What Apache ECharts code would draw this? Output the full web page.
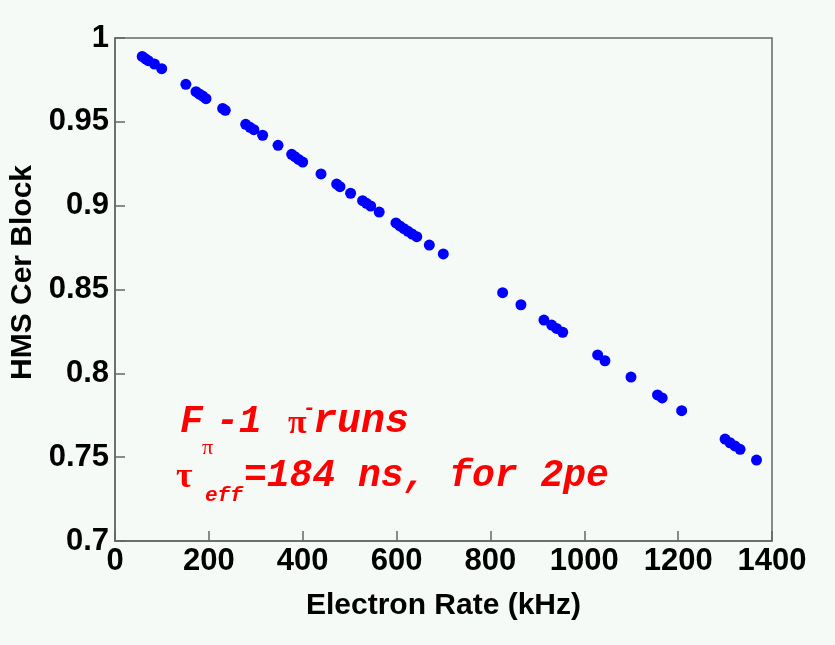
<!DOCTYPE html>
<html>
<head>
<meta charset="utf-8">
<title>HMS Cer Block vs Electron Rate</title>
<script src="https://cdn.jsdelivr.net/npm/echarts@6/dist/echarts.min.js"></script>
<style>
	* { margin: 0; padding: 0; border: 0; }
	html, body { height: 100%; background: #f5faf7; }
	#main { width: 835px; height: 645px; }
</style>
</head>
<body>
<div id="main"></div>
<script type="text/javascript">
	// electron rate (kHz)
	var rate = [58, 65, 71, 84, 99.5, 151, 172.6, 179.7, 186.8, 193.9, 229.4, 235,
		278.5, 287.7, 296, 314.6, 347.4, 376.5, 383.5, 391.3, 400, 439, 472.3, 479.4,
		502, 527.6, 536, 544.8, 563, 598.7, 607, 615.8, 624.3, 633, 643, 669.8, 699.6,
		826, 865, 914, 930.5, 941, 954, 1028.5, 1044, 1099.5, 1156, 1166, 1207.5,
		1300, 1310.5, 1321, 1332, 1367];
	// HMS Cer block efficiency
	var eff = [0.989, 0.9876, 0.9865, 0.9845, 0.9817, 0.9724, 0.968, 0.9666, 0.9654, 0.9638, 0.958, 0.9569,
		0.9485, 0.9467, 0.9453, 0.942, 0.936, 0.9306, 0.9292, 0.9276, 0.926, 0.9189, 0.9129, 0.9113,
		0.9074, 0.903, 0.9014, 0.8998, 0.8962, 0.8897, 0.8879, 0.8863, 0.8847, 0.8831, 0.8815, 0.8765, 0.8712,
		0.8481, 0.8409, 0.8318, 0.8288, 0.8268, 0.8245, 0.811, 0.8075, 0.7978, 0.7871, 0.7853, 0.7777,
		0.7608, 0.7586, 0.7567, 0.7547, 0.7483];

	var points = [];
	for (var i = 0; i < rate.length; i++) {
		points.push([rate[i], eff[i]]);
	}

	var red = '#ff0000';
	var mono = 'italic bold 38px "Liberation Mono", "Courier New", monospace';
	var monoBig = 'italic bold 40px "Liberation Mono", "Courier New", monospace';
	var monoSmall = 'italic bold 21px "Liberation Mono", "Courier New", monospace';
	var greek = 'bold 34px "Liberation Serif", serif';
	var greekSmall = '22px "Liberation Serif", serif';
	var sans = '"Liberation Sans", Arial, sans-serif';

	function txt(x, baseline, text, font, size) {
		return {
			type: 'text',
			x: x,
			y: baseline - size * 0.35,
			silent: true,
			style: { text: text, font: font, fill: red, verticalAlign: 'middle' }
		};
	}

	var myChart = echarts.init(document.getElementById('main'));

	var option = {
		backgroundColor: '#f5faf7',
		animation: false,
		grid: {
			left: 115, right: 63, top: 38, bottom: 104,
			outerBoundsMode: 'none',
			show: true,
			borderColor: '#666',
			borderWidth: 1.5
		},
		xAxis: {
			type: 'value',
			min: 0, max: 1400, interval: 200,
			name: 'Electron Rate (kHz)',
			nameLocation: 'middle',
			nameGap: 50,
			nameTextStyle: { fontFamily: sans, fontWeight: 'bold', fontSize: 30, color: '#000' },
			axisLine: { show: true, lineStyle: { color: '#666', width: 1.5 } },
			axisTick: { show: true, inside: true, length: 10, lineStyle: { color: '#666', width: 1.5 } },
			axisLabel: {
				margin: 5, fontFamily: sans, fontWeight: 'bold', fontSize: 31, color: '#000',
				formatter: function (v) { return String(v); }
			},
			splitLine: { show: false }
		},
		yAxis: {
			type: 'value',
			min: 0.7, max: 1, interval: 0.05,
			name: 'HMS Cer Block',
			nameLocation: 'middle',
			nameGap: 72,
			nameTextStyle: { fontFamily: sans, fontWeight: 'bold', fontSize: 30, color: '#000', padding: [0, 0, 0, 34] },
			axisLine: { show: true, lineStyle: { color: '#666', width: 1.5 } },
			axisTick: { show: true, inside: true, length: 10, lineStyle: { color: '#666', width: 1.5 } },
			axisLabel: {
				margin: 6, fontFamily: sans, fontWeight: 'bold', fontSize: 31, color: '#000',
				formatter: function (v) { return String(Math.round(v * 100) / 100); }
			},
			splitLine: { show: false }
		},
		series: [{
			type: 'scatter',
			symbol: 'circle',
			symbolSize: 11,
			itemStyle: { color: '#0000ff', opacity: 1 },
			data: points
		}],
		graphic: [
			// F_pi-1 pi^- runs
			txt(180, 436, 'F', mono, 38),
			txt(202, 456, 'π', greekSmall, 22),
			txt(216, 436, '-1', mono, 38),
			txt(288, 436, 'π', greek, 34),
			txt(303, 416, '-', monoSmall, 21),
			txt(313, 436, 'runs', monoBig, 40),
			// tau_eff=184 ns, for 2pe
			txt(176, 490, 'τ', 'bold 36px "Liberation Serif", serif', 36),
			txt(205, 503, 'eff', monoSmall, 21),
			txt(244, 490, '=184 ns, for 2pe', mono, 38)
		]
	};

	myChart.setOption(option);
</script>
</body>
</html>
